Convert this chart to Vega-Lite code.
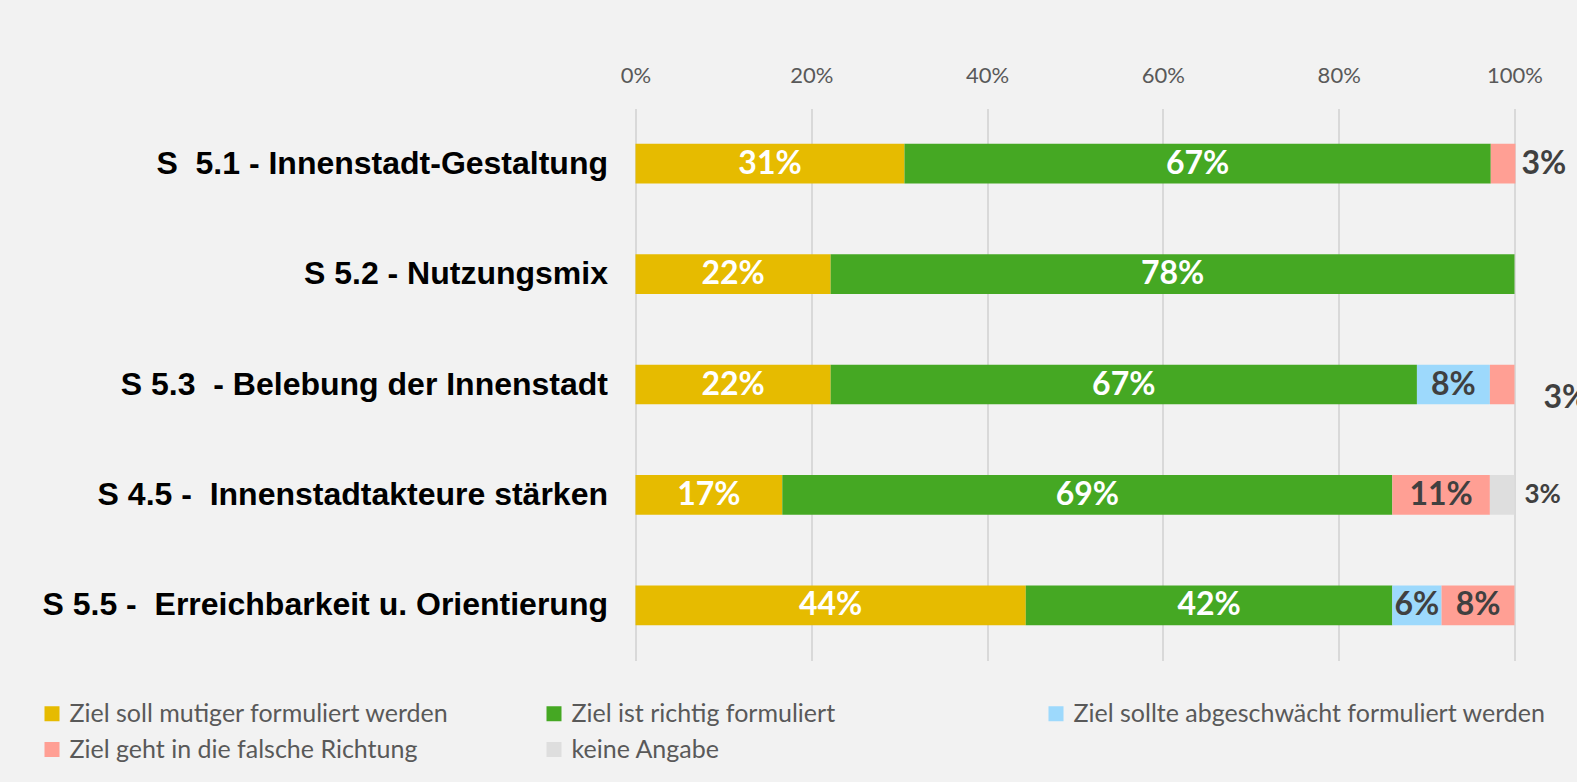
{
  "$schema": "https://vega.github.io/schema/vega-lite/v6.json",
  "autosize": "none",
  "width": 879,
  "height": 552,
  "padding": {"left": 635.5, "top": 108.5, "right": 62.5, "bottom": 121.5},
  "background": "#f2f2f2",
  "config": {"view": {"stroke": null}},
  "datasets": {
    "bars": [
      {"ziel": "S\u00a0\u00a05.1 - Innenstadt-Gestaltung", "kat": "Ziel soll mutiger formuliert werden", "o": 1, "anteil": 0.306},
      {"ziel": "S\u00a0\u00a05.1 - Innenstadt-Gestaltung", "kat": "Ziel ist richtig formuliert", "o": 2, "anteil": 0.667},
      {"ziel": "S\u00a0\u00a05.1 - Innenstadt-Gestaltung", "kat": "Ziel geht in die falsche Richtung", "o": 4, "anteil": 0.028},
      {"ziel": "S 5.2 - Nutzungsmix", "kat": "Ziel soll mutiger formuliert werden", "o": 1, "anteil": 0.222},
      {"ziel": "S 5.2 - Nutzungsmix", "kat": "Ziel ist richtig formuliert", "o": 2, "anteil": 0.778},
      {"ziel": "S 5.3\u00a0\u00a0- Belebung der Innenstadt", "kat": "Ziel soll mutiger formuliert werden", "o": 1, "anteil": 0.222},
      {"ziel": "S 5.3\u00a0\u00a0- Belebung der Innenstadt", "kat": "Ziel ist richtig formuliert", "o": 2, "anteil": 0.667},
      {"ziel": "S 5.3\u00a0\u00a0- Belebung der Innenstadt", "kat": "Ziel sollte abgeschwächt formuliert werden", "o": 3, "anteil": 0.083},
      {"ziel": "S 5.3\u00a0\u00a0- Belebung der Innenstadt", "kat": "Ziel geht in die falsche Richtung", "o": 4, "anteil": 0.028},
      {"ziel": "S 4.5 -\u00a0\u00a0Innenstadtakteure stärken", "kat": "Ziel soll mutiger formuliert werden", "o": 1, "anteil": 0.167},
      {"ziel": "S 4.5 -\u00a0\u00a0Innenstadtakteure stärken", "kat": "Ziel ist richtig formuliert", "o": 2, "anteil": 0.694},
      {"ziel": "S 4.5 -\u00a0\u00a0Innenstadtakteure stärken", "kat": "Ziel geht in die falsche Richtung", "o": 4, "anteil": 0.111},
      {"ziel": "S 4.5 -\u00a0\u00a0Innenstadtakteure stärken", "kat": "keine Angabe", "o": 5, "anteil": 0.028},
      {"ziel": "S 5.5 -\u00a0\u00a0Erreichbarkeit u. Orientierung", "kat": "Ziel soll mutiger formuliert werden", "o": 1, "anteil": 0.444},
      {"ziel": "S 5.5 -\u00a0\u00a0Erreichbarkeit u. Orientierung", "kat": "Ziel ist richtig formuliert", "o": 2, "anteil": 0.417},
      {"ziel": "S 5.5 -\u00a0\u00a0Erreichbarkeit u. Orientierung", "kat": "Ziel sollte abgeschwächt formuliert werden", "o": 3, "anteil": 0.056},
      {"ziel": "S 5.5 -\u00a0\u00a0Erreichbarkeit u. Orientierung", "kat": "Ziel geht in die falsche Richtung", "o": 4, "anteil": 0.083}
    ]
  },
  "data": {"name": "bars"},
  "transform": [
    {"stack": "anteil", "groupby": ["ziel"], "sort": [{"field": "o", "order": "ascending"}], "as": ["x0", "x1"]},
    {"calculate": "(datum.x0 + datum.x1) / 2", "as": "mid"}
  ],
  "encoding": {
    "y": {
      "field": "ziel", "type": "nominal", "sort": null, "title": null,
      "scale": {"paddingInner": 0.64, "paddingOuter": 0.32, "domain": ["S\u00a0\u00a05.1 - Innenstadt-Gestaltung", "S 5.2 - Nutzungsmix", "S 5.3\u00a0\u00a0- Belebung der Innenstadt", "S 4.5 -\u00a0\u00a0Innenstadtakteure stärken", "S 5.5 -\u00a0\u00a0Erreichbarkeit u. Orientierung"]},
      "axis": {"domain": false, "ticks": false, "labelFont": "Liberation Sans", "labelFontWeight": "bold", "labelFontSize": 32, "labelColor": "#000000", "labelPadding": 28, "labelLimit": 0}
    }
  },
  "layer": [
    {
      "mark": {"type": "bar"},
      "encoding": {
        "x": {"field": "x0", "type": "quantitative", "title": null,
          "scale": {"domain": [0, 1], "nice": false, "zero": true},
          "axis": {"orient": "top", "format": ".0%", "values": [0, 0.2, 0.4, 0.6, 0.8, 1], "domain": false, "ticks": false, "grid": true, "gridColor": "#d9d9d9", "gridWidth": 2, "labelFont": "Lato", "labelFontSize": 22, "labelColor": "#595959", "labelPadding": 21, "labelFlush": false}},
        "x2": {"field": "x1"},
        "color": {
          "field": "kat", "type": "nominal", "title": null,
          "scale": {"domain": ["Ziel soll mutiger formuliert werden", "Ziel geht in die falsche Richtung", "Ziel ist richtig formuliert", "keine Angabe", "Ziel sollte abgeschwächt formuliert werden"],
            "range": ["#e6bb00", "#ff9f94", "#45a823", "#dedede", "#9dd9fc"]},
          "legend": {"orient": "none", "legendX": -596, "legendY": 592.5, "columns": 3, "gridAlign": "all", "columnPadding": 0, "rowPadding": 10, "symbolType": "square", "symbolSize": 225, "symbolStrokeWidth": 0, "labelFont": "Lato", "labelFontSize": 25, "labelColor": "#595959", "labelOffset": 5, "labelLimit": 700}
        }
      }
    },
    {
      "transform": [{"filter": "datum.anteil > 0.04"}],
      "mark": {"type": "text", "font": "Lato", "fontWeight": "bold", "fontSize": 32, "align": "center", "baseline": "middle"},
      "encoding": {
        "x": {"field": "mid", "type": "quantitative"},
        "text": {"field": "anteil", "type": "quantitative", "format": ".0%"},
        "color": {"condition": {"test": "datum.o <= 2", "value": "#ffffff"}, "value": "#404040"}
      }
    },
    {
      "transform": [{"filter": "datum.anteil < 0.04 && datum.o == 4 && indexof(datum.ziel, '5.1') >= 0"}],
      "mark": {"type": "text", "font": "Lato", "fontWeight": "bold", "fontSize": 32, "align": "left", "baseline": "middle", "dx": 6},
      "encoding": {
        "x": {"field": "x1", "type": "quantitative"},
        "text": {"field": "anteil", "type": "quantitative", "format": ".0%"},
        "color": {"value": "#404040"}
      }
    },
    {
      "transform": [{"filter": "datum.anteil < 0.04 && datum.o == 4 && indexof(datum.ziel, '5.3') >= 0"}],
      "mark": {"type": "text", "font": "Lato", "fontWeight": "bold", "fontSize": 32, "align": "left", "baseline": "middle", "dx": 29, "dy": 13},
      "encoding": {
        "x": {"field": "x1", "type": "quantitative"},
        "text": {"field": "anteil", "type": "quantitative", "format": ".0%"},
        "color": {"value": "#404040"}
      }
    },
    {
      "transform": [{"filter": "datum.o == 5"}],
      "mark": {"type": "text", "font": "Lato", "fontWeight": "bold", "fontSize": 26, "align": "left", "baseline": "middle", "dx": 10},
      "encoding": {
        "x": {"field": "x1", "type": "quantitative"},
        "text": {"field": "anteil", "type": "quantitative", "format": ".0%"},
        "color": {"value": "#404040"}
      }
    }
  ]
}
